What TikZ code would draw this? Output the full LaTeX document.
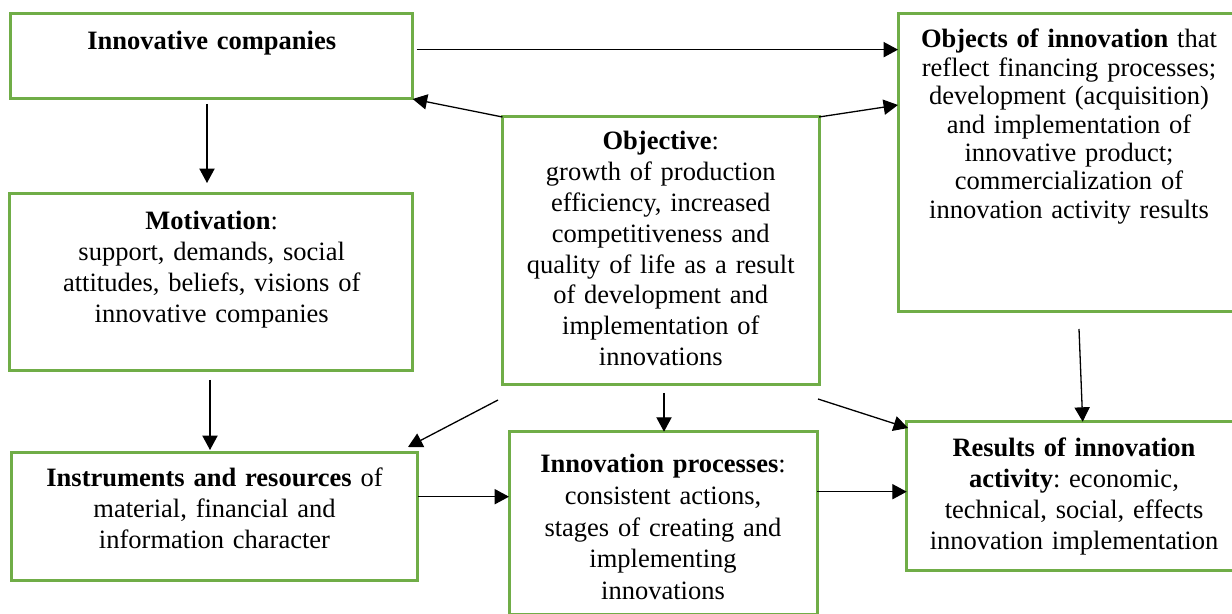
\documentclass[tikz,border=0pt]{standalone}
\usepackage{fontspec}
\setmainfont[WordSpace=0.9]{Liberation Serif}
\usepackage{xcolor}
\usetikzlibrary{arrows.meta}

\definecolor{boxgreen}{HTML}{70AD47}
\frenchspacing

\begin{document}
\begin{tikzpicture}[x=0.5pt,y=-0.5pt,
        box/.style={draw=boxgreen,line width=1.5pt,outer sep=0pt,inner sep=0pt,anchor=north west},
        txt/.style={align=center,inner sep=0pt,anchor=base,font=\fontsize{13.25}{15.4}\selectfont},
        arr/.style={-{Triangle[length=7.2pt,width=7.6pt]},line width=0.65pt}]
        \useasboundingbox (0,0) rectangle (1232,614);
        % frames
        \node[box,minimum width=201pt,minimum height=42.85pt] (comp) at (10.7,13.3) {};
        \node[box,minimum width=171pt,minimum height=149pt] (objects) at (898,14) {};
        \node[box,minimum width=158.25pt,minimum height=134pt] (objective) at (502.5,117) {};
        \node[box,minimum width=201.6pt,minimum height=88.35pt] (motiv) at (9.5,194) {};
        \node[box,minimum width=203.35pt,minimum height=63.65pt] (instr) at (11,452.7) {};
        \node[box,minimum width=154pt,minimum height=91.15pt] (proc) at (509,431.7) {};
        \node[box,minimum width=166.65pt,minimum height=74.15pt] (results) at (906.7,421.7) {};
        % texts
        \node[txt,text width=195pt] (compT) at (211.7,50) {\textbf{Innovative companies}};
        \node[txt,text width=165pt,font=\fontsize{13.25}{14.2}\selectfont] (objectsT) at (1069,48)
            {\textbf{Objects of innovation} that\\reflect financing processes;\\development (acquisition)\\and implementation of\\innovative product;\\commercialization of\\innovation activity results};
        \node[txt,text width=152pt] (objectiveT) at (660.75,150)
            {\textbf{Objective}:\\growth of production\\efficiency, increased\\competitiveness and\\quality of life as a result\\of development and\\implementation of\\innovations};
        \node[txt,text width=195pt] (motivT) at (211.7,230)
            {\textbf{Motivation}:\\support, demands, social\\attitudes, beliefs, visions of\\innovative companies};
        \node[txt,text width=197pt] (instrT) at (214.5,486.7)
            {\textbf{Instruments and resources} of\\material, financial and\\information character};
        \node[txt,text width=148pt,font=\fontsize{13.25}{15.8}\selectfont] (procT) at (663,473)
            {\textbf{Innovation processes}:\\consistent actions,\\stages of creating and\\implementing\\innovations};
        \node[txt,text width=160pt] (resultsT) at (1074,456.7)
            {\textbf{Results of innovation}\\\textbf{activity}: economic,\\technical, social, effects\\innovation implementation};
        % arrows
        \draw[arr] ([shift={(4,-6.5)}]comp.east) coordinate (a1) -- (a1 -| objects.west);
        \draw[arr] (objective.north west) -- (comp.south east);
        \draw[arr] (objective.north east) -- ([shift={(0,-58)}]objects.west);
        \draw[arr] ([shift={(-4.7,5)}]comp.south) -- ([shift={(-4.1,-11)}]motiv.north);
        \draw[arr] ([shift={(-1.1,9.3)}]motiv.south) -- ([shift={(-4.35,-2.7)}]instr.north);
        \draw[arr] ([shift={(-4.5,15)}]objective.south west) -- ([shift={(-9.7,-5.7)}]instr.north east);
        \draw[arr] ([shift={(3.25,8)}]objective.south) -- ([shift={(1,0)}]proc.north);
        \draw[arr] ([shift={(-1,14)}]objective.south east) -- ([shift={(1.3,6.3)}]results.north west);
        \draw[arr] ([shift={(0.3,-19.65)}]instr.east) coordinate (a9) -- (a9 -| proc.west);
        \draw[arr] ([shift={(0,-31.15)}]proc.east) coordinate (a10) -- (a10 -| results.west);
        \draw[arr] ([shift={(10,17)}]objects.south) -- ([shift={(9.35,0)}]results.north);
\end{tikzpicture}
\end{document}
